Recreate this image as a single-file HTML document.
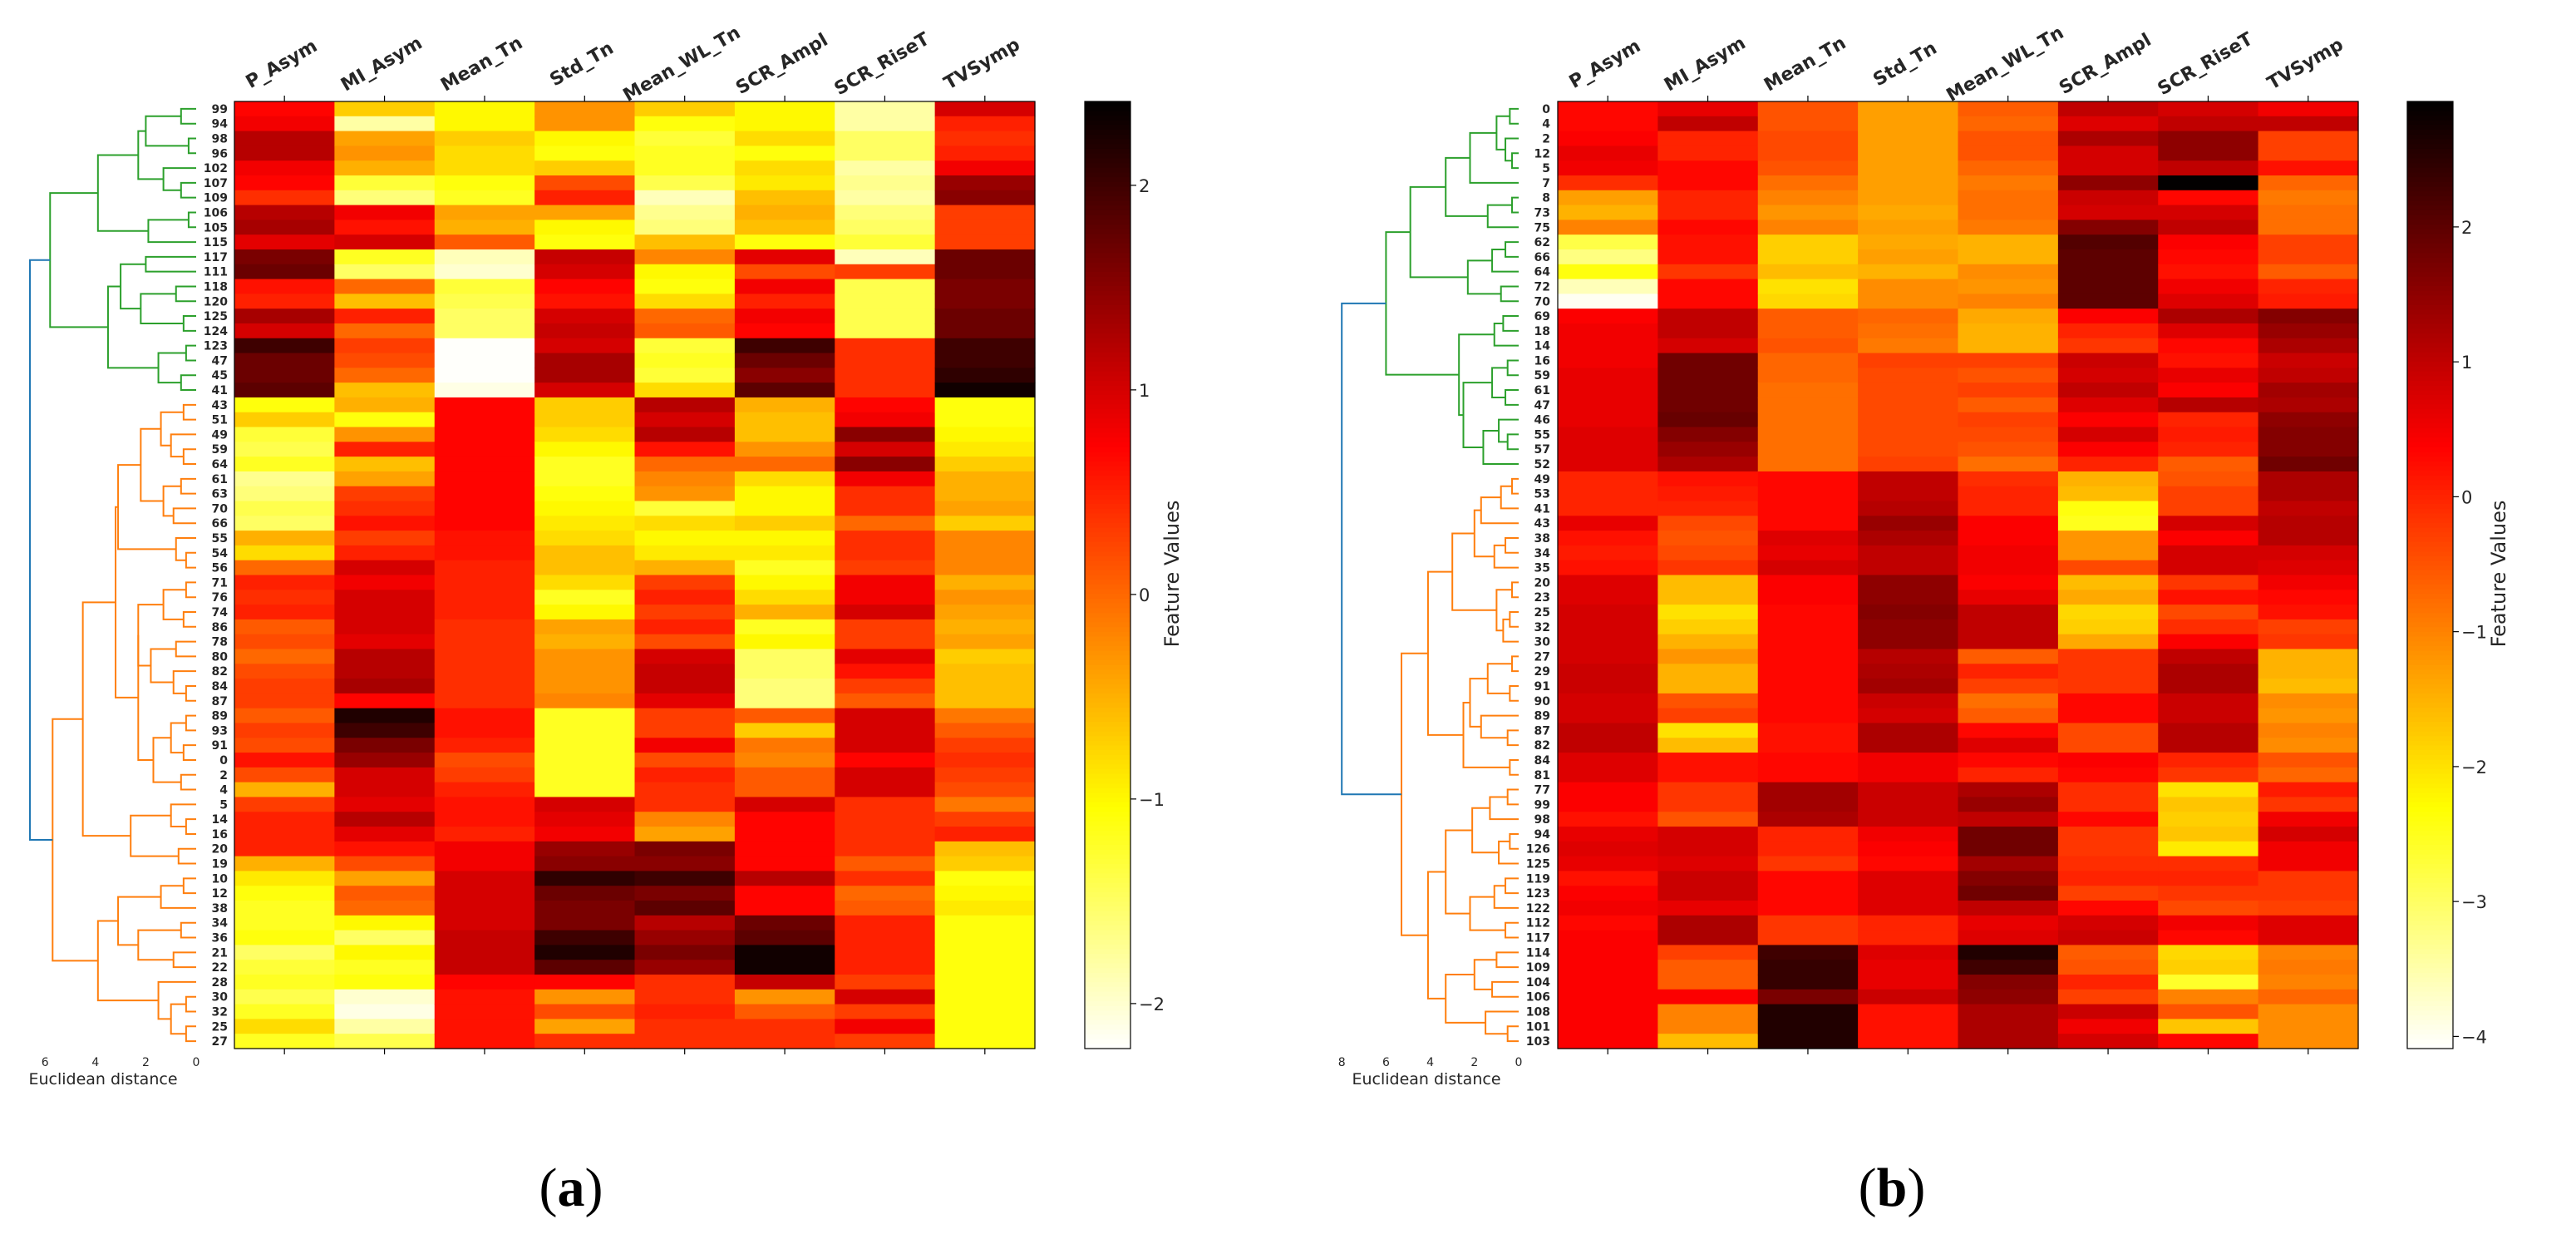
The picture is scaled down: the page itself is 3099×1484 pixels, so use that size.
<!DOCTYPE html>
<html><head><meta charset="utf-8"><style>
html,body{margin:0;padding:0;background:#fff;}
svg{display:block;font-family:"DejaVu Sans","Liberation Sans",sans-serif;}
</style></head><body>
<svg id="fig" width="3099" height="1484" viewBox="0 0 3099 1484" xmlns="http://www.w3.org/2000/svg"></svg>
<script>
const features = ["P_Asym","MI_Asym","Mean_Tn","Std_Tn","Mean_WL_Tn","SCR_Ampl","SCR_RiseT","TVSymp"];
const rowsA = ["99","94","98","96","102","107","109","106","105","115","117","111","118","120","125","124","123","47","45","41","43","51","49","59","64","61","63","70","66","55","54","56","71","76","74","86","78","80","82","84","87","89","93","91","0","2","4","5","14","16","20","19","10","12","38","34","36","21","22","28","30","32","25","27"];
const rowsB = ["0","4","2","12","5","7","8","73","75","62","66","64","72","70","69","18","14","16","59","61","47","46","55","57","52","49","53","41","43","38","34","35","20","23","25","32","30","27","29","91","90","89","87","82","84","81","77","99","98","94","126","125","119","123","122","112","117","114","109","104","106","108","101","103"];
const ticksA = [-2,-1,0,1,2];
const ticksB = [-4,-3,-2,-1,0,1,2];
const distTicksA = [6,4,2,0];
const distTicksB = [8,6,4,2,0];
const a_P_Asym = [0.7,0.8,1.2,1.2,0.8,0.7,0.4,1.2,1.3,0.9,1.6,1.7,0.6,0.5,1.3,1.0,2.0,1.7,1.7,1.8,-1.1,-0.7,-1.3,-1.4,-1.2,-1.7,-1.6,-1.4,-1.5,-0.5,-0.8,0.0,0.5,0.4,0.5,0.1,0.2,0.0,0.2,0.3,0.3,0.1,0.3,0.2,0.6,0.2,-0.5,0.3,0.5,0.5,0.5,-0.5,-0.9,-1.1,-1.2,-1.2,-1.1,-1.5,-1.3,-1.2,-1.4,-1.2,-0.8,-1.2];
const a_MI_Asym = [-0.7,-1.8,-0.4,-0.3,-0.5,-1.3,-1.6,0.8,0.6,1.0,-1.2,-1.5,0.0,-0.6,0.5,0.0,0.3,0.2,0.0,-0.6,-0.5,-1.1,-0.3,0.5,-0.6,-0.4,0.3,0.4,0.6,0.3,0.5,1.0,0.8,1.0,1.0,1.0,0.9,1.2,1.2,1.3,0.7,2.2,2.0,1.6,1.4,1.0,1.0,0.9,1.2,0.9,0.6,0.2,-0.4,0.1,0.0,-1.0,-1.5,-1.0,-1.2,-1.1,-2.0,-2.1,-1.8,-1.4];
const a_Mean_Tn = [-1.0,-1.0,-0.7,-0.8,-0.8,-1.1,-1.2,-0.4,-0.5,0.1,-1.9,-2.0,-1.3,-1.4,-1.5,-1.5,-2.2,-2.2,-2.2,-2.1,0.7,0.7,0.7,0.7,0.7,0.7,0.7,0.7,0.7,0.6,0.6,0.5,0.5,0.5,0.5,0.4,0.4,0.4,0.4,0.4,0.4,0.6,0.6,0.5,0.2,0.3,0.5,0.6,0.6,0.5,0.8,0.8,1.0,1.0,1.0,1.0,1.1,1.1,1.1,0.7,0.6,0.6,0.6,0.6];
const a_Std_Tn = [-0.3,-0.3,-1.0,-1.1,-0.7,0.2,0.5,-0.4,-1.0,-1.1,1.1,1.0,0.7,0.6,1.0,1.1,1.0,1.3,1.3,1.0,-0.7,-0.7,-0.8,-1.0,-1.2,-1.2,-1.1,-1.0,-0.9,-0.8,-0.6,-0.6,-0.8,-1.2,-1.0,-0.4,-0.5,-0.3,-0.3,-0.3,-0.2,-1.2,-1.2,-1.2,-1.2,-1.2,-1.2,1.0,0.9,0.8,1.4,1.5,2.1,1.7,1.6,1.6,2.0,2.2,1.8,0.7,-0.3,0.2,-0.4,0.4];
const a_Mean_WL_Tn = [-0.7,-1.1,-1.3,-1.2,-1.2,-1.4,-1.9,-1.7,-1.6,-0.6,-0.2,-1.0,-1.1,-0.8,0.0,0.1,-1.3,-1.2,-1.3,-0.8,1.2,1.0,1.2,0.6,0.0,-0.2,-0.3,-1.3,-0.8,-1.0,-0.9,-0.5,0.3,0.5,0.3,0.5,0.2,1.0,1.1,1.1,0.9,0.3,0.3,0.8,0.2,0.5,0.4,0.4,-0.2,-0.4,1.6,1.5,2.0,1.6,1.8,1.2,1.4,1.6,1.4,0.4,0.4,0.5,0.4,0.4];
const a_SCR_Ampl = [-1.0,-1.0,-0.8,-1.1,-0.8,-0.9,-0.6,-0.5,-0.6,-1.1,0.9,0.2,0.8,0.5,0.8,0.7,2.0,1.7,1.5,1.8,-0.5,-0.6,-0.6,-0.3,0.0,-0.8,-1.0,-1.0,-0.7,-1.0,-0.9,-1.2,-1.0,-0.8,-0.5,-1.2,-1.0,-1.5,-1.5,-1.6,-1.6,0.1,-0.7,-0.1,-0.2,0.1,0.1,1.0,0.7,0.7,0.7,0.7,1.2,0.7,0.7,1.7,1.8,2.3,2.3,1.1,-0.3,0.1,0.4,0.4];
const a_SCR_RiseT = [-1.8,-1.8,-1.5,-1.5,-1.8,-1.7,-1.8,-1.6,-1.5,-1.3,-1.9,0.3,-1.4,-1.4,-1.4,-1.4,0.4,0.4,0.4,0.4,0.7,0.8,1.5,1.0,1.5,0.8,0.4,0.4,0.0,0.4,0.4,0.3,0.8,0.8,1.0,0.3,0.3,0.9,0.6,0.3,0.1,1.0,1.0,1.0,0.7,1.0,1.0,0.4,0.4,0.4,0.4,0.1,0.4,0.0,0.1,0.5,0.5,0.5,0.5,0.3,1.0,0.3,0.8,0.3];
const a_TVSymp = [1.0,0.5,0.4,0.5,0.8,1.4,1.5,0.3,0.3,0.3,1.7,1.7,1.6,1.6,1.7,1.7,2.0,2.0,2.1,2.3,-1.1,-1.1,-1.0,-0.9,-0.7,-0.5,-0.5,-0.4,-0.7,-0.2,-0.2,-0.2,-0.5,-0.3,-0.4,-0.5,-0.4,-0.7,-0.6,-0.6,-0.6,-0.1,0.1,0.3,0.4,0.3,0.2,-0.1,0.3,0.5,-0.6,-0.7,-1.1,-1.0,-0.9,-1.1,-1.1,-1.1,-1.1,-1.1,-1.1,-1.1,-1.1,-1.1];
const b_P_Asym = [0.3,0.3,0.4,0.6,0.5,-0.1,-1.3,-1.5,-1.0,-2.8,-3.2,-2.4,-3.6,-4.0,0.4,0.5,0.5,0.5,0.6,0.6,0.6,0.6,0.7,0.7,0.7,0.0,0.0,0.0,0.6,0.2,0.1,0.2,0.7,0.7,0.8,0.8,0.8,0.8,0.9,0.9,0.8,0.8,1.0,1.0,0.7,0.7,0.4,0.4,0.2,0.6,0.7,0.6,0.2,0.4,0.5,0.3,0.4,0.4,0.4,0.4,0.4,0.4,0.4,0.4];
const b_MI_Asym = [0.6,1.0,0.0,0.0,0.3,0.3,0.0,0.0,0.3,0.2,0.2,-0.2,0.3,0.3,1.0,1.0,0.8,1.8,1.8,1.8,1.8,1.9,1.6,1.4,1.2,0.2,0.1,0.0,-0.4,-0.5,-0.4,-0.2,-1.6,-1.6,-2.0,-1.8,-1.5,-1.2,-1.5,-1.5,-0.5,-0.3,-2.0,-1.6,0.2,0.2,-0.2,-0.2,-0.5,0.8,0.8,0.7,0.9,0.9,0.6,1.2,1.2,-0.3,-0.6,-0.6,0.4,-1.0,-1.0,-1.6];
const b_Mean_Tn = [-0.5,-0.5,-0.4,-0.4,-0.5,-0.8,-1.0,-1.2,-1.0,-1.8,-1.8,-1.6,-2.0,-1.9,-0.6,-0.6,-0.5,-0.7,-0.7,-0.8,-0.8,-0.8,-0.8,-0.8,-0.8,0.3,0.3,0.3,0.3,0.7,0.6,0.8,0.4,0.4,0.3,0.3,0.3,0.3,0.3,0.3,0.3,0.3,0.2,0.2,0.3,0.3,1.3,1.3,1.2,0.0,0.0,-0.2,0.3,0.3,0.3,-0.2,-0.2,2.3,2.4,2.4,1.7,2.6,2.6,2.6];
const b_Std_Tn = [-1.3,-1.3,-1.3,-1.3,-1.3,-1.3,-1.3,-1.4,-1.3,-1.4,-1.3,-1.5,-1.1,-1.1,-0.7,-0.8,-0.9,-0.3,-0.4,-0.4,-0.4,-0.4,-0.4,-0.4,-0.3,1.0,1.0,1.1,1.4,1.2,1.0,1.0,1.5,1.5,1.6,1.5,1.5,1.1,1.2,1.3,0.9,0.8,1.2,1.2,0.5,0.5,0.9,0.9,0.9,0.5,0.4,0.3,0.7,0.7,0.7,0.0,0.0,0.7,0.6,0.6,0.9,0.2,0.2,0.2];
const b_Mean_WL_Tn = [-0.6,-0.7,-0.5,-0.5,-0.7,-0.9,-0.8,-0.8,-0.9,-1.5,-1.5,-1.1,-1.2,-1.0,-1.4,-1.5,-1.5,-0.3,-0.5,-0.3,-0.6,-0.3,-0.4,-0.5,-0.8,-0.1,0.0,0.0,0.4,0.4,0.5,0.5,0.4,0.6,1.0,1.0,1.0,-0.6,0.0,-0.3,-0.8,-0.6,0.3,0.7,0.3,0.0,1.2,1.4,1.0,1.8,1.8,1.3,1.6,1.8,1.0,0.6,0.7,2.6,2.3,1.6,1.5,1.2,1.2,1.2];
const b_SCR_Ampl = [1.0,0.7,1.2,0.8,0.8,1.5,0.9,0.8,1.6,2.1,2.0,2.0,2.0,2.0,0.4,0.0,-0.2,0.9,0.8,1.0,0.7,0.4,0.8,0.4,0.0,-1.5,-1.6,-2.4,-2.5,-1.2,-1.2,-0.4,-1.6,-1.4,-1.9,-1.8,-1.4,-0.2,-0.2,-0.2,0.3,0.3,-0.4,-0.4,0.4,0.3,-0.1,-0.1,0.3,-0.2,-0.2,-0.1,0.0,-0.3,0.3,0.8,0.9,-0.6,-0.5,0.0,-0.3,0.9,0.5,0.8];
const b_SCR_RiseT = [0.8,1.0,1.5,1.5,1.0,2.9,0.3,0.8,1.0,0.4,0.3,0.2,0.5,0.7,1.2,0.7,0.3,0.2,0.6,0.4,1.1,0.0,0.1,0.0,-0.6,-0.5,-0.3,-0.3,0.8,0.4,0.8,0.8,-0.2,0.2,-0.4,-0.1,0.4,1.0,1.2,1.2,0.9,0.9,1.1,1.1,0.0,-0.2,-2.0,-1.7,-1.8,-1.7,-2.1,-0.1,0.0,-0.2,-0.4,0.5,0.3,-1.9,-1.8,-2.6,-1.0,-0.5,-1.7,0.3];
const b_TVSymp = [0.5,1.0,-0.3,-0.3,0.2,-0.7,-0.9,-0.8,-0.8,-0.3,-0.3,-0.6,0.0,0.1,1.6,1.4,1.2,0.9,1.0,1.3,1.2,1.5,1.6,1.6,1.8,1.2,1.2,1.0,1.1,1.1,0.8,0.7,0.5,0.3,0.2,-0.3,-0.2,-1.5,-1.5,-1.6,-1.1,-1.2,-1.0,-1.1,-0.5,-0.7,0.1,-0.2,0.5,0.8,0.5,0.5,-0.2,-0.2,-0.3,0.7,0.7,-1.0,-0.9,-1.0,-0.7,-1.1,-1.1,-1.1];
const colsA = [a_P_Asym,a_MI_Asym,a_Mean_Tn,a_Std_Tn,a_Mean_WL_Tn,a_SCR_Ampl,a_SCR_RiseT,a_TVSymp];
const colsB = [b_P_Asym,b_MI_Asym,b_Mean_Tn,b_Std_Tn,b_Mean_WL_Tn,b_SCR_Ampl,b_SCR_RiseT,b_TVSymp];
const treeA = [6.6,
 [5.8,
  [3.9,[2.3,[2.0,[0.6,0,1],[0.3,2,3]],[1.3,4,[0.6,5,6]]],[1.9,[0.3,7,8],9]],
  [3.5,[3.0,[2.0,10,11],[2.2,[0.8,12,13],[0.5,14,15]]],[1.5,[0.4,16,17],[0.6,18,19]]]],
 [5.7,
  [4.5,
   [3.2,
    [3.1,[2.2,[1.4,[0.5,20,21],[1.0,22,[0.5,23,24]]],[1.3,[0.6,25,26],[0.9,27,28]]],[0.8,29,[0.4,30,31]]],
    [2.3,[2.3,[1.3,[0.4,32,33],[0.5,34,35]],[1.8,[0.8,36,37],[0.9,38,[0.4,39,40]]]],[1.7,[1.0,[0.4,41,42],[0.5,43,44]],[0.6,45,46]]]],
   [2.6,[1.0,47,[0.4,48,49]],[0.7,50,51]]],
  [3.9,[3.1,[1.4,[0.5,52,53],54],[2.3,[0.6,55,56],[0.9,57,58]]],[1.5,59,[1.0,[0.4,60,61],[0.4,62,63]]]]]];
const treeB = [8.0,
 [6.0,
  [4.9,[3.3,[2.2,[1.0,[0.4,0,1],[0.6,2,[0.3,3,4]]],5],[1.4,[0.3,6,7],8]],[2.3,[1.2,[0.6,9,10],11],[0.8,12,13]]],
  [2.7,[1.1,[0.7,14,15],16],[2.5,[1.2,[0.5,17,18],[0.6,19,20]],[1.6,[0.9,21,[0.5,22,23]],24]]]],
 [5.3,
  [4.1,[3.0,[2.0,[1.7,[0.8,[0.3,25,26],27],28],[1.1,[0.6,29,30],31]],[1.0,[0.3,32,33],[0.7,[0.4,34,35],36]]],
        [2.5,[2.2,[1.4,[0.3,37,38],[0.4,39,40]],[1.7,41,[0.5,42,43]]],[0.4,44,45]]],
  [4.1,[3.3,[2.1,[1.3,[0.5,46,47],48],[0.9,[0.4,49,50],51]],[2.2,[1.1,[0.6,52,53],54],[0.6,55,56]]],
        [3.3,[2.0,[1.0,57,58],[1.2,59,60]],[1.5,61,[0.5,62,63]]]]]];

const NS="http://www.w3.org/2000/svg";
const svg=document.getElementById('fig');
function mk(tag,attrs,parent){const e=document.createElementNS(NS,tag);for(const k in attrs)e.setAttribute(k,attrs[k]);(parent||svg).appendChild(e);return e;}
function hot(t){t=Math.max(0,Math.min(1,t));const r=Math.min(1,t/0.365),g=Math.max(0,Math.min(1,(t-0.365)/0.381)),b=Math.max(0,Math.min(1,(t-0.746)/0.254));return `rgb(${Math.round(r*255)},${Math.round(g*255)},${Math.round(b*255)})`;}
function colorOf(v,vmin,vmax){return hot((vmax-v)/(vmax-vmin));}

function panel(P){
  const g=mk('g',{});
  
  
  const n=P.rows.length, rh=(P.hy1-P.hy0)/n, cw=(P.hx1-P.hx0)/features.length;
  const yOf=i=>P.hy0+(i+0.5)*rh;
  const xOfCol=j=>P.hx0+(j+0.5)*cw;
  const hm=mk('g',{},g);
  
  
  P.cols.forEach((col,j)=>{col.forEach((v,i)=>{
    const r=mk('rect',{x:(P.hx0+j*cw).toFixed(2),y:(P.hy0+i*rh).toFixed(2),width:(cw+0.6).toFixed(2),height:(rh+0.6).toFixed(2),fill:colorOf(v,P.vmin,P.vmax)},hm);
    
    
  });});
  mk('rect',{x:P.hx0,y:P.hy0,width:P.hx1-P.hx0,height:P.hy1-P.hy0,fill:'none',stroke:'#000','stroke-width':1.2},g);
  features.forEach((f,j)=>{
    const x=xOfCol(j);
    mk('line',{x1:x,x2:x,y1:P.hy0,y2:P.hy0-7,stroke:'#000','stroke-width':1.2},g);
    mk('line',{x1:x,x2:x,y1:P.hy1,y2:P.hy1+7,stroke:'#000','stroke-width':1.2},g);
    const t=mk('text',{x:x,y:83,'text-anchor':'middle','font-size':22,'font-weight':'bold',fill:'#262626',transform:`rotate(-30 ${x} 83)`},g);
    t.textContent=f;
    
    
  });
  P.rows.forEach((lab,i)=>{
    const t=mk('text',{x:P.labX,y:yOf(i)+5,'text-anchor':'end','font-size':14,'font-weight':'bold',fill:'#262626'},g);
    t.textContent=lab;
    
    
  });
  const dx=d=>P.d0-d*P.dpx;
  const dg=mk('g',{},g);
  
  
  function draw(node,color){
    if(typeof node==='number')return {y:yOf(node),h:0};
    const a=draw(node[1],color&&node!==P.tree?color:colorFor(node[1]));
    const b=draw(node[2],color&&node!==P.tree?color:colorFor(node[2]));
    const c=(node===P.tree)?'#1f77b4':color;
    const x=dx(node[0]);
    mk('path',{d:`M${dx(a.h)} ${a.y}H${x}V${b.y}H${dx(b.h)}`,fill:'none',stroke:c,'stroke-width':2},dg);
    return {y:(a.y+b.y)/2,h:node[0]};
  }
  function colorFor(node){return node===P.tree[1]?'#2ca02c':'#ff7f0e';}
  draw(P.tree,null);
  P.dticks.forEach(d=>{
    const t=mk('text',{x:dx(d),y:1282,'text-anchor':'middle','font-size':14,fill:'#262626'},g);
    t.textContent=d;
    
    
  });
  const el=mk('text',{x:P.elx,y:1304,'text-anchor':'middle','font-size':19,fill:'#262626'},g);
  el.textContent='Euclidean distance';
  
  
  const cb=mk('g',{},g);
  
  
  const steps=200,ch=(P.hy1-P.hy0)/steps;
  for(let k=0;k<steps;k++){
    const v=P.vmax-(k+0.5)/steps*(P.vmax-P.vmin);
    mk('rect',{x:P.cx0,y:(P.hy0+k*ch).toFixed(2),width:P.cx1-P.cx0,height:(ch+0.6).toFixed(2),fill:colorOf(v,P.vmin,P.vmax)},cb);
  }
  mk('rect',{x:P.cx0,y:P.hy0,width:P.cx1-P.cx0,height:P.hy1-P.hy0,fill:'none',stroke:'#000','stroke-width':1.2},cb);
  P.ticks.forEach(tv=>{
    const y=P.hy0+(P.vmax-tv)/(P.vmax-P.vmin)*(P.hy1-P.hy0);
    mk('line',{x1:P.cx1,x2:P.cx1+7,y1:y,y2:y,stroke:'#000','stroke-width':1.2},cb);
    const t=mk('text',{x:P.cx1+10,y:y+8,'font-size':21,fill:'#262626'},cb);
    t.textContent=tv<0?'\u2212'+(-tv):String(tv);
    
    
  });
  const fl=mk('text',{x:P.flx,y:690,'text-anchor':'middle','font-size':24,fill:'#262626',transform:`rotate(-90 ${P.flx} 690)`},g);
  fl.textContent='Feature Values';
  
  
  const pt=mk('text',{x:P.tx,y:1450,'text-anchor':'middle','font-size':66,'font-family':'"Liberation Serif",serif',fill:'#000'},g);
  pt.innerHTML='(<tspan font-weight="bold">'+P.letter+'</tspan>)';
  
  
}
panel({name:'panel-a',rows:rowsA,cols:colsA,tree:treeA,hx0:282,hx1:1245,hy0:122,hy1:1261,labX:274,d0:236,dpx:30.3,dticks:distTicksA,elx:124,cx0:1305,cx1:1360,vmin:-2.22,vmax:2.41,ticks:ticksA,flx:1418,tx:687,letter:'a'});
panel({name:'panel-b',rows:rowsB,cols:colsB,tree:treeB,hx0:1874,hx1:2837,hy0:122,hy1:1261,labX:1865,d0:1827,dpx:26.6,dticks:distTicksB,elx:1716,cx0:2896,cx1:2951,vmin:-4.09,vmax:2.93,ticks:ticksB,flx:3014,tx:2276,letter:'b'});
</script>
</body></html>
